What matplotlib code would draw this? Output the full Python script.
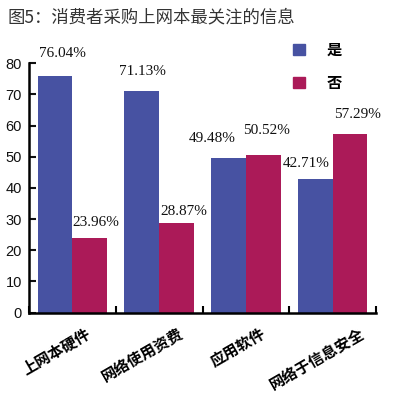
import matplotlib
matplotlib.use("Agg")
import matplotlib.pyplot as plt
from matplotlib.patches import Patch
import numpy as np

plt.rcParams["font.family"] = ["Noto Sans CJK SC", "DejaVu Sans"]

categories = ["上网本硬件", "网络使用资费", "应用软件", "网络于信息安全"]
yes_values = [76.04, 71.13, 49.48, 42.71]
no_values = [23.96, 28.87, 50.52, 57.29]
series_names = ["是", "否"]
title = "图5：消费者采购上网本最关注的信息"

# label spots (data coords)
yes_label_pos = [(-0.12, 83.2), (0.81, 77.4), (1.615, 55.9), (2.70, 47.9)]
no_label_pos = [(0.27, 28.8), (1.28, 32.3), (2.24, 58.3), (3.29, 63.7)]
cat_label_shift = [0.15, 0.22, 0.17, 0.30]

BLUE = "#4752a2"
RED = "#ab1a58"

fig = plt.figure(figsize=(3.99, 4.03), dpi=100)
ax = fig.add_axes([0.0727, 0.2243, 0.8697, 0.6187])

x = np.arange(len(categories))
w = 0.4
ax.bar(x - w / 2, yes_values, w, color=BLUE)
ax.bar(x + w / 2, no_values, w, color=RED)

for vals, pos in ((yes_values, yes_label_pos), (no_values, no_label_pos)):
    for v, (px, py) in zip(vals, pos):
        ax.text(px, py, f"{v:.2f}%", ha="center", va="center",
                family="Liberation Serif", fontsize=11, color="#111111")

ax.set_xlim(-0.5, len(categories) - 0.5)
ax.set_ylim(0, 80)
ax.set_yticks(range(0, 81, 10))
ax.set_xticks(np.arange(-0.5, len(categories), 1.0))
ax.set_xticklabels([])
for lab in ax.get_yticklabels():
    lab.set_family("Liberation Sans")
    lab.set_fontsize(10.5)
ax.tick_params(axis="y", direction="in", length=5, width=1.5, pad=5, colors="#111111")
ax.tick_params(axis="x", direction="in", length=5, width=1.5)

for s in ("top", "right"):
    ax.spines[s].set_visible(False)
for s in ("left", "bottom"):
    ax.spines[s].set_linewidth(1.8)

for i, name in enumerate(categories):
    ax.text(i + cat_label_shift[i], -4.0, name, rotation=30,
            rotation_mode="anchor", ha="right", va="top",
            fontsize=11, fontweight="bold", clip_on=False)

handles = [Patch(color=BLUE), Patch(color=RED)]
fig.legend(handles, series_names, loc="upper left",
           bbox_to_anchor=(0.70, 0.93), frameon=False,
           handlelength=0.8, handleheight=0.8, handletextpad=1.4,
           labelspacing=1.1, prop={"size": 11, "weight": "bold"})

fig.text(0.02, 0.957, title, fontsize=12.5, color="#333333", va="center")

fig.savefig("out.png", dpi=100)
